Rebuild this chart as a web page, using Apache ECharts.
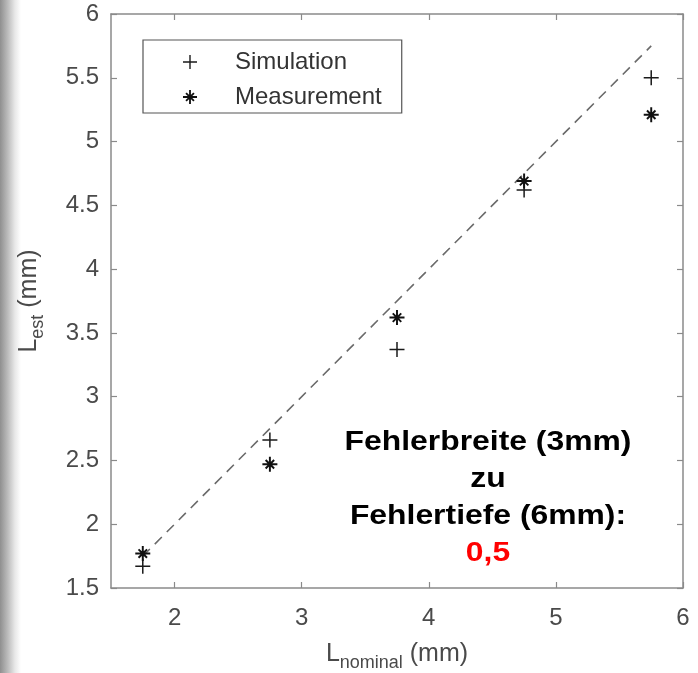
<!DOCTYPE html>
<html>
<head>
<meta charset="utf-8">
<script src="https://cdn.jsdelivr.net/npm/echarts@6/dist/echarts.min.js"></script>
<style>
html,body{margin:0;padding:0;}
body{width:698px;height:673px;background:linear-gradient(to right,#8f8f8f 0px,#bdbdbd 8px,#e8e8e8 15px,#ffffff 21px);}
#chart{width:698px;height:673px;}
</style>
</head>
<body>
<div id="chart"></div>
<script>
// ---- data ----
const nominal = [1.75, 2.75, 3.75, 4.75, 5.75];
const simulation = [1.67, 2.66, 3.37, 4.62, 5.50];
const measurement = [1.77, 2.47, 3.62, 4.69, 5.21];
const diagonal = [1.75, 5.75];
const xTicks = [2, 3, 4, 5, 6];
const yTicks = [1.5, 2, 2.5, 3, 3.5, 4, 4.5, 5, 5.5, 6];
const seriesNames = ['Simulation', 'Measurement'];
const annotationLines = ['Fehlerbreite (3mm)', 'zu', 'Fehlertiefe (6mm):'];
const annotationValue = '0,5';

const plusPath = 'path://M9,0H11V9H20V11H11V20H9V11H0V9H9Z';
const starPath = 'path://M8.7,0H11.3V20H8.7Z M0,8.7H20V11.3H0Z ' +
  'M5.262,3.424L16.576,14.738L14.738,16.576L3.424,5.262Z ' +
  'M3.424,14.738L14.738,3.424L16.576,5.262L5.262,16.576Z';

const FONT = 'Liberation Sans';
const axisGray = '#8a8a8a';
const labelGray = '#4a4a4a';

const chart = echarts.init(document.getElementById('chart'), null, {renderer: 'canvas'});

const baseX = {
  type: 'value', min: 1.5, max: 6, interval: 0.5,
  axisLine: {show: true, lineStyle: {color: axisGray, width: 1.5}},
  splitLine: {show: false}
};

const option = {
  backgroundColor: 'transparent',
  animation: false,
  grid: {left: 111, right: 15, top: 14, bottom: 85, containLabel: false, outerBoundsMode: 'none'},
  legend: {
    left: 143, top: 40, orient: 'vertical',
    data: [{name: seriesNames[0], icon: plusPath}, {name: seriesNames[1], icon: starPath}],
    itemWidth: 80, itemHeight: 14, itemGap: 11,
    padding: [10, 20, 4, 40],
    borderColor: '#555', borderWidth: 1.2, backgroundColor: '#fff',
    textStyle: {fontFamily: FONT, fontSize: 24, color: '#333'}
  },
  xAxis: [
    Object.assign({}, baseX, {
      position: 'bottom',
      name: '{L|L}{s|nominal}{L| (mm)}',
      nameLocation: 'middle', nameGap: 49,
      nameTextStyle: {
        color: labelGray, fontFamily: FONT,
        rich: {
          L: {fontSize: 25, fontFamily: FONT, color: labelGray},
          s: {fontSize: 18, fontFamily: FONT, color: labelGray, padding: [17, 0, 0, 0]}
        }
      },
      axisTick: {show: true, inside: true, length: 6, lineStyle: {color: axisGray, width: 1.2},
        customValues: xTicks},
      axisLabel: {show: true, fontFamily: FONT, fontSize: 24, color: labelGray, margin: 18,
        customValues: xTicks, formatter: v => String(v)}
    }),
    Object.assign({}, baseX, {
      position: 'top',
      axisTick: {show: true, inside: true, length: 6, lineStyle: {color: axisGray, width: 1.2},
        customValues: xTicks},
      axisLabel: {show: false}
    })
  ],
  yAxis: [
    {
      type: 'value', min: 1.5, max: 6, interval: 0.5, position: 'left',
      name: '{L|L}{s|est}{L| (mm)}',
      nameLocation: 'middle', nameGap: 64, nameRotate: 90,
      nameTextStyle: {
        color: labelGray, fontFamily: FONT,
        rich: {
          L: {fontSize: 25, fontFamily: FONT, color: labelGray},
          s: {fontSize: 18, fontFamily: FONT, color: labelGray, padding: [17, 0, 0, 0]}
        }
      },
      axisLine: {show: true, lineStyle: {color: axisGray, width: 1.5}},
      axisTick: {show: true, inside: true, length: 6, lineStyle: {color: axisGray, width: 1.2}},
      axisLabel: {show: true, fontFamily: FONT, fontSize: 24, color: labelGray, margin: 12,
        formatter: v => String(v)},
      splitLine: {show: false}
    },
    {
      type: 'value', min: 1.5, max: 6, interval: 0.5, position: 'right',
      axisLine: {show: true, lineStyle: {color: axisGray, width: 1.5}},
      axisTick: {show: true, inside: true, length: 6, lineStyle: {color: axisGray, width: 1.2}},
      axisLabel: {show: false},
      splitLine: {show: false}
    }
  ],
  series: [
    {
      name: 'identity', type: 'line', silent: true,
      data: diagonal.map(v => [v, v]),
      showSymbol: false, symbol: 'none',
      lineStyle: {color: '#6a6a6a', width: 1.6, type: [10, 7]},
      z: 1
    },
    {
      name: seriesNames[0], type: 'scatter',
      data: nominal.map((x, i) => [x, simulation[i]]),
      symbol: plusPath, symbolSize: 15, symbolKeepAspect: true,
      itemStyle: {color: '#1a1a1a', opacity: 1},
      z: 3
    },
    {
      name: seriesNames[1], type: 'scatter',
      data: nominal.map((x, i) => [x, measurement[i]]),
      symbol: starPath, symbolSize: 15, symbolKeepAspect: true,
      itemStyle: {color: '#111', opacity: 1},
      z: 3
    }
  ],
  graphic: [
    {
      type: 'text', x: 488, y: 424, z: 10,
      scaleX: 1.18, scaleY: 1,
      style: {
        text: annotationLines.map(t => '{b|' + t + '}').join('\n') + '\n{r|' + annotationValue + '}',
        align: 'center',
        rich: {
          b: {fontFamily: FONT, fontWeight: 'bold', fontSize: 27, fill: '#000', lineHeight: 37, align: 'center'},
          r: {fontFamily: FONT, fontWeight: 'bold', fontSize: 27, fill: '#ff0000', lineHeight: 37, align: 'center'}
        }
      }
    }
  ]
};
chart.setOption(option);
</script>
</body>
</html>
